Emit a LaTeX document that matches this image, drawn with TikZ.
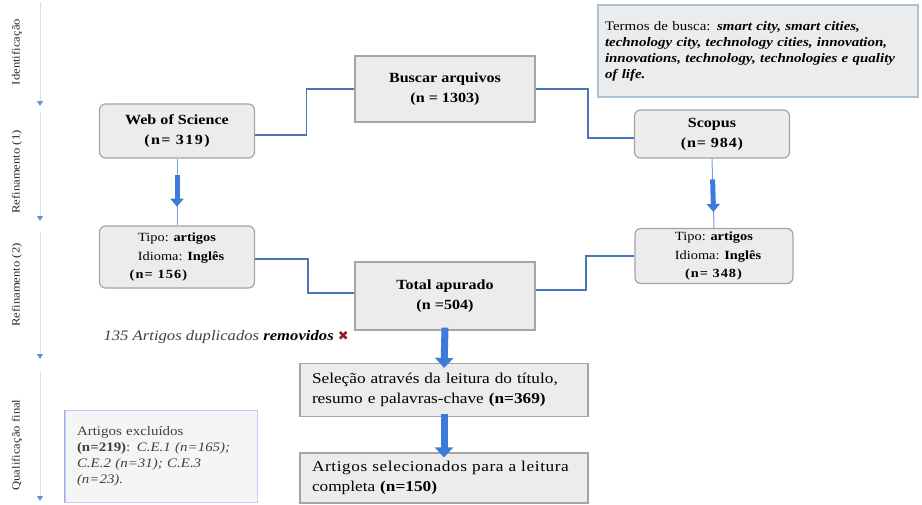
\documentclass[tikz,border=0pt]{standalone}
\usepackage{fontspec}
\setmainfont{Liberation Serif}[FakeStretch=1.15]
\newfontfamily\symfont{DejaVu Sans}
\usepackage{tikz}
\usetikzlibrary{arrows.meta,positioning,calc}
\definecolor{boxgray}{RGB}{236,236,236}
\definecolor{edgegray}{RGB}{165,165,165}
\definecolor{linkblue}{RGB}{72,118,188}
\definecolor{fatblue}{RGB}{62,122,218}
\definecolor{termedge}{RGB}{172,192,212}
\definecolor{xred}{RGB}{150,30,40}
\newcommand{\spaced}[2]{{\addfontfeatures{LetterSpace=#1}#2}}

\begin{document}
\begin{tikzpicture}[
  x=1pt,y=-1pt,
  squarebox/.style={rectangle,draw=edgegray,fill=boxgray,line width=1.2pt,align=center,inner sep=2pt},
  roundbox/.style={squarebox,rounded corners=6pt},
  title/.style={font=\fontsize{14}{20}\selectfont\bfseries},
  plain/.style={font=\fontsize{12.5}{18.5}\selectfont},
  wide/.style={font=\fontsize{15}{20}\selectfont,text width=264pt,align=left},
  link/.style={draw=linkblue,line width=1.8pt},
  thinlink/.style={draw=linkblue!70,line width=1pt},
  fatarrow/.style={draw=fatblue,line width=5pt,-{Triangle[width=13pt,length=8pt]}},
  bigarrow/.style={draw=fatblue,line width=7pt,-{Triangle[width=18pt,length=10pt]}},
  sidelabel/.style={rotate=90,font=\fontsize{11}{12}\selectfont,text=black!85},
  sideline/.style={draw=blue!14,line width=1pt,-{Triangle[width=6pt,length=5pt,color=linkblue!80,fill=linkblue!80]}},
]
\useasboundingbox (0,0) rectangle (922,504);

% Stage labels
\node[sidelabel] (lab_ident) at (17,52) {Identificação};
\node[sidelabel] (lab_ref1) at (17,172) {Refinamento (1)};
\node[sidelabel] (lab_ref2) at (17,285) {Refinamento (2)};
\node[sidelabel] (lab_qual) at (17,445) {Qualificação final};
\coordinate (s1a) at (40,2);   \coordinate (s1b) at (40,106);
\coordinate (s2a) at (40,112); \coordinate (s2b) at (40,221);
\coordinate (s3a) at (40,232); \coordinate (s3b) at (40,359);
\coordinate (s4a) at (40,372); \coordinate (s4b) at (40,501);
\draw[sideline] (s1a) -- (s1b);
\draw[sideline] (s2a) -- (s2b);
\draw[sideline] (s3a) -- (s3b);
\draw[sideline] (s4a) -- (s4b);

% Search
\node[squarebox,title,minimum width=180pt,minimum height=66pt] (busca) at (445,89) {Buscar arquivos\\(n = 1303)};
\node[roundbox,title,minimum width=155pt,minimum height=54pt] (wos) at (177,131) {Web of Science\\\spaced{10}{(n= 319)}};
\node[roundbox,title,minimum width=155pt,minimum height=48pt] (scopus) at (712,134) {Scopus\\\spaced{6}{(n= 984)}};
\node[rectangle,draw=termedge,fill=boxgray,line width=1.2pt,minimum width=320pt,minimum height=92pt,
  text width=306pt,align=left,font=\fontsize{13}{16}\selectfont] (termos) at (758,51)
  {Termos de busca: \textbf{\textit{smart city, smart cities,}}\\
   \textbf{\textit{technology city, technology cities, innovation,}}\\
   \textbf{\textit{innovations, technology, technologies e quality}}\\
   \textbf{\textit{of life.}}};

% Refinement
\node[roundbox,plain,minimum width=155pt,minimum height=62pt] (tipoL) at (177,257)
  {Tipo: \textbf{artigos}\\\hspace*{8pt}Idioma: \textbf{Inglês}\\\hspace*{-36pt}\textbf{\spaced{9}{(n= 156)}}};
\node[roundbox,plain,minimum width=158pt,minimum height=55pt] (tipoR) at (714,256)
  {Tipo: \textbf{artigos}\\\hspace*{8pt}Idioma: \textbf{Inglês}\\\textbf{\spaced{8}{(n= 348)}}};
\node[squarebox,title,minimum width=180pt,minimum height=68pt] (total) at (445,296) {Total apurado\\(n =504)};
\node[anchor=west,font=\fontsize{14.5}{16}\selectfont\itshape,text=black!75] (dupl) at (100,337)
  {135 Artigos duplicados \textbf{\color{black}removidos} {\symfont\color{xred}\fontsize{13}{14}\selectfont ✖}};

% Final qualification
\node[squarebox,wide,minimum width=288pt,minimum height=53pt] (selecao) at (444,390)
  {Seleção através da leitura do título,\\resumo e palavras-chave \textbf{(n=369)}};
\node[squarebox,wide,minimum width=288pt,minimum height=50pt] (final) at (444,478)
  {\spaced{4}{Artigos selecionados para a leitura}\\completa \textbf{(n=150)}};
\node[rectangle,draw=blue!22,fill=black!4,line width=1pt,minimum width=192pt,minimum height=92pt,
  text width=168pt,align=left,font=\fontsize{13}{16}\selectfont,text=black!75] (excl) at (161,456)
  {Artigos excluídos\\\textbf{(n=219)}: \textit{C.E.1 (n=165);}\\\textit{C.E.2 (n=31); C.E.3}\\\textit{(n=23).}};
\draw[linkblue!55,line width=1.5pt] (excl.north west) -- (excl.south west);

% Connections
\draw[link] (busca.west) -- ++(-48,0) |- ([yshift=-4pt]wos.east);
\draw[link] (busca.east) -- ++(52,0) |- ([yshift=-4pt]scopus.west);
\draw[link] ([yshift=-2pt]tipoL.east) -- ++(53,0) |- ([yshift=3pt]total.west);
\draw[link] ([yshift=6pt]total.east) -- ++(50,0) |- (tipoR.west);

\draw[thinlink] (wos.south) -- (tipoL.north);
\draw[fatarrow] ($(wos.south)!0.25!(tipoL.north)$) -- ($(wos.south)!0.72!(tipoL.north)$);
\draw[thinlink] (scopus.south) -- (tipoR.north);
\draw[fatarrow] ($(scopus.south)!0.3!(tipoR.north)$) -- ($(scopus.south)!0.77!(tipoR.north)$);

\draw[bigarrow] ([yshift=3pt]total.south) -- ([yshift=-5pt]selecao.north);
\draw[bigarrow] ([yshift=3pt]selecao.south) -- ([yshift=-5pt]final.north);

\end{tikzpicture}
\end{document}
